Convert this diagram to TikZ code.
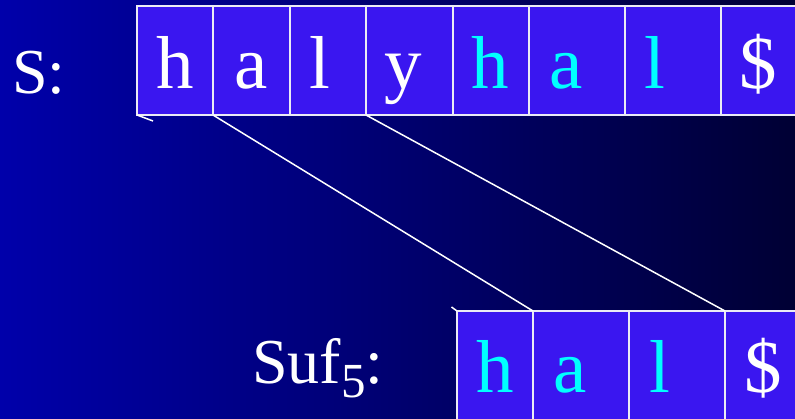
\documentclass[tikz,border=0pt]{standalone}
\usepackage{fontspec}
\setmainfont{Liberation Serif}
\definecolor{bgleft}{RGB}{0,0,170}
\definecolor{bgright}{RGB}{0,0,52}
\definecolor{cellfill}{RGB}{58,22,240}
\definecolor{cellline}{RGB}{235,235,245}
\definecolor{hicyan}{RGB}{0,255,255}
\tikzset{
  cellbox/.style={draw=cellline, line width=2.3bp, fill=cellfill, rectangle, inner sep=0pt, outer sep=0pt, anchor=north west, minimum height=109bp},
  letter/.style={anchor=base, inner sep=0pt, font=\fontsize{75bp}{75bp}\selectfont},
  lbl/.style={anchor=base west, inner sep=0pt, text=white, font=\fontsize{64bp}{64bp}\selectfont},
  link/.style={draw=white, line width=1.5bp}
}
\begin{document}
\begin{tikzpicture}[x=1bp,y=-1bp]
\useasboundingbox (0,0) rectangle (795,418);
\clip (0,0) rectangle (795,418);
\shade[left color=bgleft, right color=bgright] (0,0) rectangle (795,418);

% top row
\node[cellbox, minimum width=76bp] (t1) at (137,6) {};
\node[cellbox, minimum width=77bp] (t2) at (213,6) {};
\node[cellbox, minimum width=76bp] (t3) at (290,6) {};
\node[cellbox, minimum width=87bp] (t4) at (366,6) {};
\node[cellbox, minimum width=76bp] (t5) at (453,6) {};
\node[cellbox, minimum width=96bp] (t6) at (529,6) {};
\node[cellbox, minimum width=96bp] (t7) at (625,6) {};
\node[cellbox, minimum width=78bp] (t8) at (721,6) {};

\node[letter, text=white] (lt1) at (175,88.7) {h};
\node[letter, text=white] (lt2) at (251,88.7) {a};
\node[letter, text=white] (lt3) at (320,88.7) {l};
\node[letter, text=white] (lt4) at (403,88.7) {y};
\node[letter, text=hicyan] (lt5) at (490.5,88.7) {h};
\node[letter, text=hicyan] (lt6) at (566,88.7) {a};
\node[letter, text=hicyan] (lt7) at (654.7,88.7) {l};
\node[letter, text=white] (lt8) at (758,88.7) {\$};

% bottom row
\node[cellbox, minimum width=76bp] (b1) at (457,311) {};
\node[cellbox, minimum width=96bp] (b2) at (533,311) {};
\node[cellbox, minimum width=96bp] (b3) at (629,311) {};
\node[cellbox, minimum width=78bp] (b4) at (725,311) {};

\node[letter, text=hicyan] (lb1) at (495,392.3) {h};
\node[letter, text=hicyan] (lb2) at (570.6,392.3) {a};
\node[letter, text=hicyan] (lb3) at (659.5,392.3) {l};
\node[letter, text=white] (lb4) at (763.5,392.3) {\$};

% labels
\node[lbl] (ls) at (12,93) {S:};
\node[lbl] (lsuf) at (252,383.3) {Suf\raisebox{-14bp}{\fontsize{49bp}{49bp}\selectfont 5}:};

% connectors
\coordinate (s1) at (153,121);
\coordinate (s2) at (451.5,307);
\draw[link] (t1.south west) -- (s1);
\draw[link] (t2.south west) -- (b2.north west);
\draw[link] (t4.south west) -- (b4.north west);
\draw[link] (s2) -- (b1.north west);
\end{tikzpicture}
\end{document}
